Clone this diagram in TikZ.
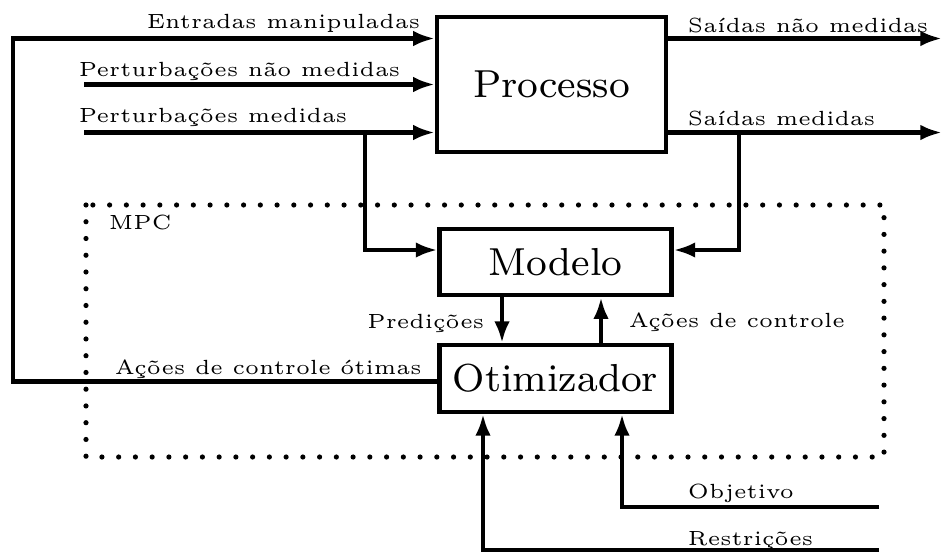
\documentclass[tikz,border=0pt]{standalone}
\usetikzlibrary{arrows.meta,calc}
\begin{document}
\begin{tikzpicture}[x=0.2126pt,y=-0.2126pt,
  blk/.style={draw,line width=0.9pt,inner sep=0pt,font=\fontsize{8.3}{9.9}\selectfont},
  lbl/.style={inner sep=0pt,font=\fontsize{4.36}{5.2}\selectfont},
  wire/.style={line width=0.9pt},
  arr/.style={wire,-{Latex[length=4.6pt,width=3.3pt]}},
  dotline/.style={line width=1.1pt,line cap=round,dash pattern=on 0pt off 3.56pt}]
\useasboundingbox (0,0) rectangle (942,553);
% blocks
\node[blk,minimum width=48.7pt,minimum height=28.7pt] (proc) at (551.5,84.5) {Processo};
\node[blk,minimum width=49.3pt,minimum height=14.1pt] (model) at (555.5,262) {Modelo};
\node[blk,minimum width=49.3pt,minimum height=14.2pt] (otim) at (555.5,378.5) {Otimizador};
% MPC frame
\draw[dotline] (86,205) rectangle (884,457);
\node[lbl,anchor=base west] (mpc) at (108,229) {MPC};
% free ends
\coordinate (pA) at (84,84.5);
\coordinate (pB) at (84,132.5);
\coordinate (fb) at (13,381.5);
\coordinate (sA) at (942,38.5);
\coordinate (sB) at (942,132.5);
\coordinate (obj) at (879,507);
\coordinate (res) at (879,550);
\coordinate (brL) at (365,132.5);
\coordinate (brR) at (739.3,132.5);
% connectors
\draw[arr] (otim.west |- fb) -- (fb) |- ($(proc.west)+(0,-46)$);
\draw[arr] (pA) -- (proc.west);
\draw[arr] (pB) -- ($(proc.west)+(0,48)$);
\draw[arr] (brL) |- ($(model.west)+(0,-12)$);
\draw[arr] ($(proc.east)+(0,-46)$) -- (sA);
\draw[arr] ($(proc.east)+(0,48)$) -- (sB);
\draw[arr] (brR) |- ($(model.east)+(0,-12)$);
\draw[arr] ($(model.south)+(-53.5,0)$) -- ($(otim.north)+(-53.5,0)$);
\draw[arr] ($(otim.north)+(45.5,0)$) -- ($(model.south)+(45.5,0)$);
\draw[arr] (obj) -| ($(otim.south)+(66.5,0)$);
\draw[arr] (res) -| ($(otim.south)+(-72.5,0)$);
% labels
\node[lbl,anchor=base east] (lEnt) at (421,28.5) {Entradas manipuladas};
\node[lbl,anchor=base west] (lPnm) at (78,76.5) {Perturbações não medidas};
\node[lbl,anchor=base west] (lPm) at (78,122) {Perturbações medidas};
\node[lbl,anchor=base west] (lSnm) at (687,32.3) {Saídas não medidas};
\node[lbl,anchor=base west] (lSm) at (687,125) {Saídas medidas};
\node[lbl,anchor=base east] (lPred) at (485,328) {Predições};
\node[lbl,anchor=base west] (lAc) at (628,327) {Ações de controle};
\node[lbl,anchor=base west] (lAco) at (114,374) {Ações de controle ótimas};
\node[lbl,anchor=base west] (lObj) at (687,498) {Objetivo};
\node[lbl,anchor=base west] (lRes) at (687,545) {Restrições};
\end{tikzpicture}
\end{document}
